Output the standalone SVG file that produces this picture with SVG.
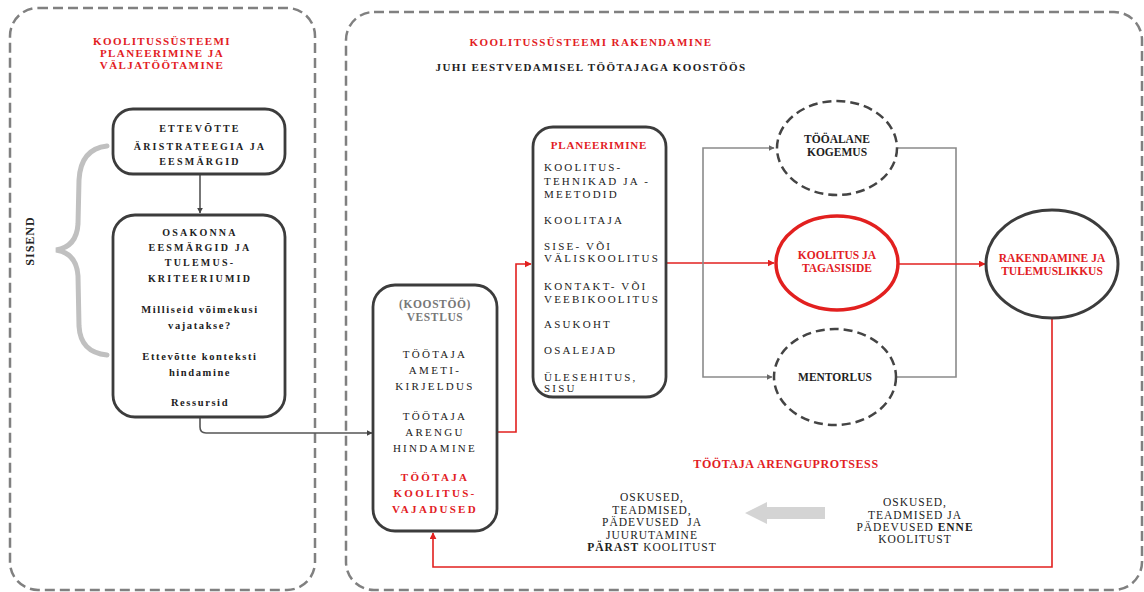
<svg xmlns="http://www.w3.org/2000/svg" width="1144" height="592" viewBox="0 0 1144 592">
<style>
text{font-family:"Liberation Serif","Times New Roman",serif;text-anchor:middle;fill:#222}
.b{font-weight:bold}
.red{fill:#e2201f}
.ttl{font-size:11px;font-weight:bold;letter-spacing:1.4px}
.bx{font-size:10px;font-weight:bold;letter-spacing:2.2px}
.bx2{font-size:11px;font-weight:bold;letter-spacing:2.3px}
.low{font-size:10.5px;font-weight:bold;letter-spacing:1.6px}
.reg{font-size:11px;letter-spacing:2.3px}
.pl{font-size:11px;letter-spacing:2.2px;text-anchor:start}
.el{font-size:11.5px;font-weight:bold}
.bt{font-size:11.5px;letter-spacing:1px}
.cont{fill:none;stroke:#808080;stroke-width:2.5;stroke-dasharray:10 5}
.node{fill:#fff;stroke:#3c3c3c;stroke-width:2.8}
.dash{fill:#fff;stroke:#444;stroke-width:2.5;stroke-dasharray:9 5}
.gl{fill:none;stroke:#8a8a8a;stroke-width:1.6}
.dl{fill:none;stroke:#555;stroke-width:1.6}
.rl{fill:none;stroke:#e2201f;stroke-width:1.6}
</style>
<defs>
<marker id="ag" viewBox="0 0 10 10" refX="9" refY="5" markerWidth="6" markerHeight="6" orient="auto" markerUnits="userSpaceOnUse"><path d="M0,0L10,5L0,10z" fill="#666"/></marker>
<marker id="ad" viewBox="0 0 10 10" refX="9" refY="5" markerWidth="6" markerHeight="6" orient="auto" markerUnits="userSpaceOnUse"><path d="M0,0L10,5L0,10z" fill="#444"/></marker>
<marker id="ar" viewBox="0 0 10 10" refX="9" refY="5" markerWidth="7" markerHeight="7" orient="auto" markerUnits="userSpaceOnUse"><path d="M0,0L10,5L0,10z" fill="#e2201f"/></marker>
</defs>
<rect width="1144" height="592" fill="#fff"/>

<g id="container-left">
<rect class="cont" x="10" y="8" width="305" height="582" rx="28"/>
<text class="ttl red" x="162" y="45">KOOLITUSSÜSTEEMI</text>
<text class="ttl red" x="162" y="57">PLANEERIMINE JA</text>
<text class="ttl red" x="162" y="69">VÄLJATÖÖTAMINE</text>
</g>
<g id="container-right">
<rect class="cont" x="346" y="12" width="796" height="578" rx="28"/>
<text class="ttl red" x="591" y="46">KOOLITUSSÜSTEEMI RAKENDAMINE</text>
<text class="ttl" x="591" y="71">JUHI EESTVEDAMISEL TÖÖTAJAGA KOOSTÖÖS</text>
</g>

<g id="sisend">
<path d="M107,146 C89,148 80,160 79,180 L78,224 C77,240 69,248 56,250 C69,252 77,260 78,276 L79,326 C80,344 89,353 107,355" fill="none" stroke="#c0c0c0" stroke-width="5" stroke-linecap="round"/>
<text class="b" font-size="12" letter-spacing="1" transform="translate(34,241) rotate(-90)">SISEND</text>
</g>

<g id="connectors">
<line class="dl" x1="200" y1="174" x2="200" y2="213" marker-end="url(#ad)"/>
<path class="dl" d="M200,417 V427 Q200,433 206,433 H372" marker-end="url(#ad)"/>
<path class="rl" d="M497,432 H516 V264 H531" marker-end="url(#ar)"/>
<line class="rl" x1="666" y1="263" x2="774" y2="263" marker-end="url(#ar)"/>
<path class="gl" d="M703,263 V148 H774" marker-end="url(#ag)"/>
<path class="gl" d="M703,263 V377 H772" marker-end="url(#ag)"/>
<path class="gl" d="M898,148 H956 V377 H896"/>
<line class="rl" x1="898" y1="264" x2="985" y2="264" marker-end="url(#ar)"/>
<path class="rl" d="M1052,318 V567 H433 V533" marker-end="url(#ar)"/>
</g>

<g id="n-strategy">
<rect class="node" x="113" y="109" width="172" height="65" rx="20" stroke-width="2.2"/>
<text class="bx" x="200" y="132">ETTEVÕTTE</text>
<text class="bx" x="200" y="150">ÄRISTRATEEGIA JA</text>
<text class="bx" x="200" y="165">EESMÄRGID</text>
</g>

<g id="n-osakond">
<rect class="node" x="113" y="215" width="172" height="202" rx="22" stroke-width="2.2"/>
<text class="bx" x="200" y="236">OSAKONNA</text>
<text class="bx" x="200" y="251">EESMÄRGID JA</text>
<text class="bx" x="200" y="266">TULEMUS-</text>
<text class="bx" x="200" y="282">KRITEERIUMID</text>
<text class="low" x="200" y="313">Milliseid võimekusi</text>
<text class="low" x="200" y="329">vajatakse?</text>
<text class="low" x="200" y="360">Ettevõtte konteksti</text>
<text class="low" x="200" y="376">hindamine</text>
<text class="low" x="200" y="406">Ressursid</text>
</g>

<g id="n-vestlus">
<rect class="node" x="373" y="285" width="124" height="246" rx="22"/>
<text class="b" font-size="11.5" letter-spacing="0.6" style="fill:#777" x="435" y="308">(KOOSTÖÖ)</text>
<text class="b" font-size="11.5" letter-spacing="0.6" style="fill:#777" x="435" y="321">VESTLUS</text>
<text class="reg" x="435" y="358">TÖÖTAJA</text>
<text class="reg" x="435" y="374">AMETI-</text>
<text class="reg" x="435" y="390">KIRJELDUS</text>
<text class="reg" x="435" y="420">TÖÖTAJA</text>
<text class="reg" x="435" y="436">ARENGU</text>
<text class="reg" x="435" y="452">HINDAMINE</text>
<text class="bx2 red" x="435" y="481">TÖÖTAJA</text>
<text class="bx2 red" x="435" y="497">KOOLITUS-</text>
<text class="bx2 red" x="435" y="513">VAJADUSED</text>
</g>

<g id="n-planeerimine">
<rect class="node" x="533" y="127" width="133" height="270" rx="20"/>
<text class="red b" font-size="11" letter-spacing="0.8" x="599" y="149">PLANEERIMINE</text>
<text class="pl" x="544" y="171">KOOLITUS-</text>
<text class="pl" x="544" y="185">TEHNIKAD JA -</text>
<text class="pl" x="544" y="198">MEETODID</text>
<text class="pl" x="544" y="224">KOOLITAJA</text>
<text class="pl" x="544" y="250">SISE- VÕI</text>
<text class="pl" x="544" y="262">VÄLISKOOLITUS</text>
<text class="pl" x="544" y="290">KONTAKT- VÕI</text>
<text class="pl" x="544" y="303">VEEBIKOOLITUS</text>
<text class="pl" x="544" y="328">ASUKOHT</text>
<text class="pl" x="544" y="354">OSALEJAD</text>
<text class="pl" x="544" y="381">ÜLESEHITUS,</text>
<text class="pl" x="544" y="392">SISU</text>
</g>

<g id="n-kogemus">
<ellipse class="dash" cx="837" cy="148" rx="60" ry="47"/>
<text class="el" x="837" y="143">TÖÖALANE</text>
<text class="el" x="837" y="156">KOGEMUS</text>
</g>

<g id="n-koolitus">
<ellipse cx="837" cy="263" rx="61" ry="47" fill="#fff" stroke="#e2201f" stroke-width="3.5"/>
<text class="el red" x="837" y="259">KOOLITUS JA</text>
<text class="el red" x="837" y="272">TAGASISIDE</text>
</g>

<g id="n-mentorlus">
<ellipse class="dash" cx="835" cy="377" rx="61" ry="48"/>
<text class="el" x="835" y="381">MENTORLUS</text>
</g>

<g id="n-rakendamine">
<ellipse cx="1052" cy="264" rx="66" ry="54" fill="#fff" stroke="#3c3c3c" stroke-width="3"/>
<text class="el red" x="1052" y="262">RAKENDAMINE JA</text>
<text class="el red" x="1052" y="275">TULEMUSLIKKUS</text>
</g>

<g id="arenguprotsess">
<text class="b red" font-size="12" letter-spacing="0.6" x="786" y="468">TÖÖTAJA ARENGUPROTSESS</text>
<text class="bt" x="652" y="501">OSKUSED,</text>
<text class="bt" x="652" y="514">TEADMISED,</text>
<text class="bt" x="652" y="526" xml:space="preserve">PÄDEVUSED  JA</text>
<text class="bt" x="652" y="539">JUURUTAMINE</text>
<text class="bt" x="652" y="551"><tspan font-weight="bold">PÄRAST</tspan> KOOLITUST</text>
<path d="M745,513 L767,502 L767,507 L825,507 L825,519 L767,519 L767,524 Z" fill="#d4d4d4"/>
<text class="bt" x="915" y="506">OSKUSED,</text>
<text class="bt" x="915" y="519">TEADMISED JA</text>
<text class="bt" x="915" y="531">PÄDEVUSED <tspan font-weight="bold">ENNE</tspan></text>
<text class="bt" x="915" y="543">KOOLITUST</text>
</g>
</svg>
